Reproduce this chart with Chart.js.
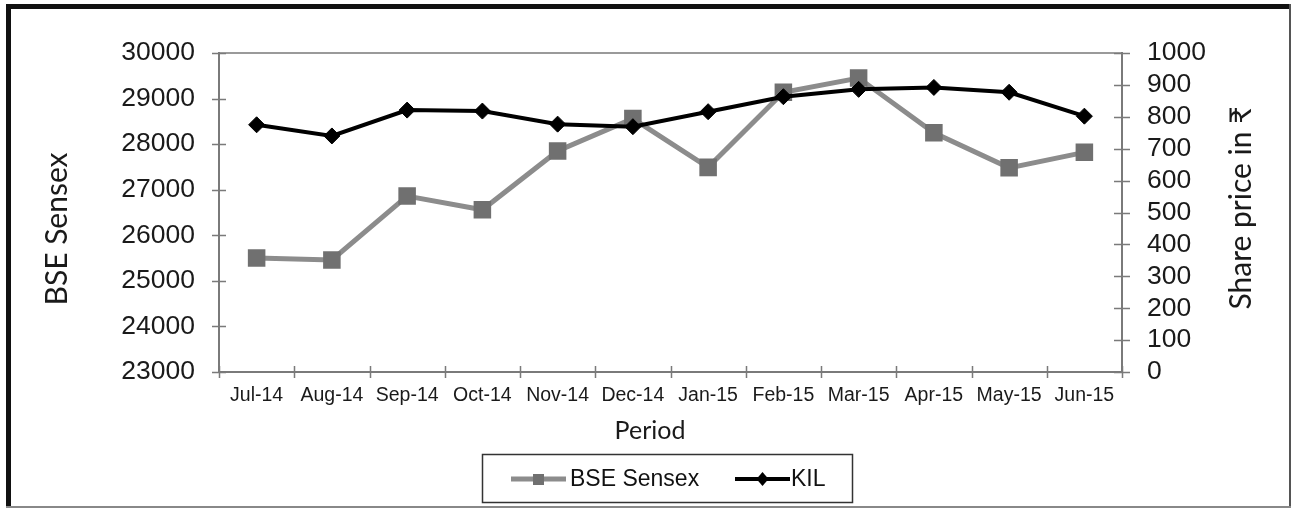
<!DOCTYPE html>
<html>
<head>
<meta charset="utf-8">
<title>BSE Sensex vs KIL</title>
<script src="https://cdn.jsdelivr.net/npm/chart.js@4.4.1/dist/chart.umd.min.js"></script>
<style>
    html, body { margin: 0; padding: 0; background: #ffffff; }
    canvas { display: block; }
</style>
</head>
<body>
<canvas id="priceChart" width="1293" height="508"></canvas>
<script>
// ===== DATA =====
const periods = ['Jul-14', 'Aug-14', 'Sep-14', 'Oct-14', 'Nov-14', 'Dec-14',
                 'Jan-15', 'Feb-15', 'Mar-15', 'Apr-15', 'May-15', 'Jun-15'];
const sensexValues = [25500, 25460, 26860, 26560, 27850, 28560, 27490, 29140, 29450, 28250, 27480, 27820];
const kilValues = [775, 740, 821, 818, 777, 769, 816, 863, 886, 892, 877, 802];

const sensexTicks = [23000, 24000, 25000, 26000, 27000, 28000, 29000, 30000];
const kilTicks = [0, 100, 200, 300, 400, 500, 600, 700, 800, 900, 1000];

const leftTitle = 'BSE Sensex';
const rightTitle = 'Share price in ₹';
const bottomTitle = 'Period';

const tickFont = 'Liberation Sans, Arial, sans-serif';
const titleFont = 'Lato, "Noto Sans", sans-serif';

// Page frame + plot box
const framePlugin = {
    id: 'frame',
    beforeDraw(chart) {
        const ctx = chart.ctx;
        ctx.save();
        ctx.fillStyle = '#ffffff';
        ctx.fillRect(0, 0, chart.width, chart.height);
        ctx.fillStyle = '#111111';
        ctx.fillRect(6, 4, 1285, 5);     // top
        ctx.fillRect(6, 4, 5, 504);      // left
        ctx.fillStyle = '#555555';
        ctx.fillRect(1289, 4, 2, 504);   // right
        ctx.fillStyle = '#888888';
        ctx.fillRect(6, 506, 1285, 2);   // bottom
        ctx.restore();
    },
    afterDraw(chart) {
        const ctx = chart.ctx;
        const area = chart.chartArea;
        const x = chart.scales.x, yL = chart.scales.y, yR = chart.scales.y1;
        ctx.save();
        ctx.strokeStyle = '#7a7a7a';
        ctx.lineWidth = 2;
        ctx.beginPath();
        ctx.moveTo(area.left, area.top);
        ctx.lineTo(area.right, area.top);
        // tick marks crossing the axes
        sensexTicks.forEach(v => {
            const py = Math.round(yL.getPixelForValue(v)) + 0.5;
            ctx.moveTo(area.left - 7, py);
            ctx.lineTo(area.left + 7, py);
        });
        kilTicks.forEach(v => {
            const py = Math.round(yR.getPixelForValue(v)) + 0.5;
            ctx.moveTo(area.right - 8, py);
            ctx.lineTo(area.right + 8, py);
        });
        for (let i = 0; i <= periods.length; i++) {
            const px = Math.round(x.getPixelForValue(i - 0.5)) + 0.5;
            ctx.moveTo(px, area.bottom - 6);
            ctx.lineTo(px, area.bottom + 6);
        }
        ctx.lineWidth = 1.5;
        ctx.stroke();
        ctx.restore();
    }
};

// Axis titles (vertical ones read bottom-to-top)
const axisTitlePlugin = {
    id: 'axisTitles',
    afterDraw(chart) {
        const ctx = chart.ctx;
        ctx.save();
        ctx.fillStyle = '#1a1a1a';
        ctx.font = '30px ' + titleFont;
        ctx.textAlign = 'center';
        ctx.textBaseline = 'middle';

        ctx.save();
        ctx.translate(57, 229);
        ctx.rotate(-Math.PI / 2);
        ctx.fillText(leftTitle, 0, 0);
        ctx.restore();

        ctx.save();
        ctx.translate(1241, 208);
        ctx.rotate(-Math.PI / 2);
        ctx.fillText(rightTitle, 0, 0);
        ctx.restore();

        ctx.font = '25px ' + titleFont;
        ctx.fillText(bottomTitle, 650, 431);
        ctx.restore();
    }
};

// Excel style legend: line with marker, inside a box
const legendPlugin = {
    id: 'boxLegend',
    afterDraw(chart) {
        const ctx = chart.ctx;
        const ds = chart.data.datasets;
        const cy = 479;
        ctx.save();
        ctx.strokeStyle = '#333333';
        ctx.lineWidth = 1.5;
        ctx.strokeRect(482.5, 454.5, 370, 48);

        ctx.font = '23px ' + tickFont;
        ctx.textBaseline = 'middle';
        ctx.fillStyle = '#111111';

        // BSE Sensex
        ctx.strokeStyle = ds[0].borderColor;
        ctx.lineWidth = 5;
        ctx.beginPath();
        ctx.moveTo(511, cy);
        ctx.lineTo(566, cy);
        ctx.stroke();
        ctx.fillStyle = ds[0].pointBackgroundColor;
        ctx.fillRect(533, cy - 5, 11, 11);
        ctx.fillStyle = '#111111';
        ctx.fillText(ds[0].label, 570, cy + 1);

        // KIL
        ctx.strokeStyle = ds[1].borderColor;
        ctx.lineWidth = 4;
        ctx.beginPath();
        ctx.moveTo(735, cy);
        ctx.lineTo(790, cy);
        ctx.stroke();
        ctx.fillStyle = ds[1].pointBackgroundColor;
        ctx.beginPath();
        ctx.moveTo(762.5, cy - 7);
        ctx.lineTo(768.5, cy);
        ctx.lineTo(762.5, cy + 7);
        ctx.lineTo(756.5, cy);
        ctx.closePath();
        ctx.fill();
        ctx.fillStyle = '#111111';
        ctx.fillText(ds[1].label, 791, cy + 1);
        ctx.restore();
    }
};

function initializeChart() {
    const ctx = document.getElementById('priceChart');
    if (!ctx) return;

    new Chart(ctx.getContext('2d'), {
        type: 'line',
        data: {
            labels: periods,
            datasets: [{
                label: 'BSE Sensex',
                data: sensexValues,
                yAxisID: 'y',
                order: 1,
                borderColor: '#8c8c8c',
                borderWidth: 5,
                pointStyle: 'rect',
                pointRadius: 12.4,
                pointBackgroundColor: '#707070',
                pointBorderColor: '#707070',
                pointBorderWidth: 0,
                tension: 0
            }, {
                label: 'KIL',
                data: kilValues,
                yAxisID: 'y1',
                order: 0,
                borderColor: '#000000',
                borderWidth: 4,
                pointStyle: 'rectRot',
                pointRadius: 8,
                pointBackgroundColor: '#000000',
                pointBorderColor: '#000000',
                pointBorderWidth: 1,
                tension: 0
            }]
        },
        options: {
            responsive: false,
            animation: false,
            layout: { padding: { top: 53, bottom: 56, left: 0, right: 0 } },
            plugins: {
                legend: { display: false },
                tooltip: { enabled: false }
            },
            scales: {
                x: {
                    offset: true,
                    grid: { display: false, drawTicks: false, offset: true },
                    border: { display: true, color: '#7a7a7a', width: 2 },
                    ticks: {
                        color: '#1a1a1a',
                        padding: 12,
                        maxRotation: 0,
                        autoSkip: false,
                        font: { family: tickFont, size: 19.5 }
                    },
                    afterFit: s => { s.height = 80; }
                },
                y: {
                    position: 'left',
                    min: 23000,
                    max: 30000,
                    grid: { display: false, drawTicks: false },
                    border: { display: true, color: '#7a7a7a', width: 2 },
                    afterBuildTicks: s => { s.ticks = sensexTicks.map(v => ({ value: v })); },
                    ticks: {
                        color: '#1a1a1a',
                        padding: 24,
                        autoSkip: false,
                        font: { family: tickFont, size: 26.5 },
                        callback: v => String(v)
                    },
                    afterFit: s => { s.width = 219; }
                },
                y1: {
                    position: 'right',
                    min: 0,
                    max: 1000,
                    grid: { display: false, drawTicks: false },
                    border: { display: true, color: '#7a7a7a', width: 2 },
                    afterBuildTicks: s => { s.ticks = kilTicks.map(v => ({ value: v })); },
                    ticks: {
                        color: '#1a1a1a',
                        padding: 25,
                        autoSkip: false,
                        font: { family: tickFont, size: 26.5 },
                        callback: v => String(v)
                    },
                    afterFit: s => { s.width = 171; }
                }
            }
        },
        plugins: [framePlugin, axisTitlePlugin, legendPlugin]
    });
}

document.addEventListener('DOMContentLoaded', initializeChart);
</script>
</body>
</html>
